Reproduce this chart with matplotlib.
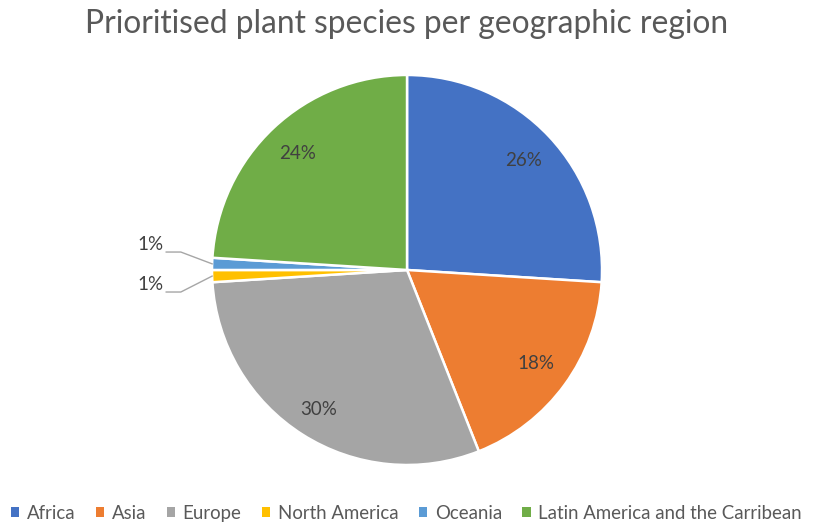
import numpy as np
import matplotlib.pyplot as plt
from matplotlib.patches import Patch

# regional share of prioritised plant species (%)
regions = ['Africa', 'Asia', 'Europe', 'North America', 'Oceania',
           'Latin America and the Carribean']
shares = [26, 18, 30, 1, 1, 24]
colors = ['#4472C4', '#ED7D31', '#A5A5A5', '#FFC000', '#5B9BD5', '#70AD47']

plt.rcParams['font.family'] = ['Lato', 'DejaVu Sans']

fig = plt.figure(figsize=(8.13, 5.25), dpi=100)
ax = fig.add_axes([0.2608, 0.1143, 0.4797, 0.7429])

wedges, _ = ax.pie(shares, colors=colors, startangle=90, counterclock=False,
                   radius=1, wedgeprops=dict(edgecolor='white', linewidth=1.8))
ax.set_xlim(-1, 1)
ax.set_ylim(-1, 1)
ax.set_aspect('equal')
ax.axis('off')

# percentage labels inside the larger slices, leader lines for the small ones
for w, v in zip(wedges, shares):
    mid = np.deg2rad((w.theta1 + w.theta2) / 2)
    if v >= 5:
        r = 0.85 if v >= 28 else 0.82
        ax.text(r * np.cos(mid), r * np.sin(mid), f'{v}%', ha='center',
                va='center', fontsize=13.5, color='#404040')
    else:
        ex, ey = np.cos(mid), np.sin(mid)
        ly, ty = (0.092, 0.133) if ey > 0 else (-0.113, -0.077)
        ax.plot([ex, -1.16, -1.235], [ey, ly, ly], color='#A6A6A6', lw=1,
                clip_on=False)
        ax.text(-1.25, ty, f'{v}%', ha='right', va='center',
                fontsize=13.5, color='#404040', clip_on=False)

fig.text(0.5, 0.955, 'Prioritised plant species per geographic region',
         ha='center', va='center', fontsize=22.9, color='#595959')

handles = [Patch(facecolor=c, edgecolor='none') for c in colors]
fig.legend(handles, regions, loc='center', bbox_to_anchor=(0.5, 0.022),
           ncol=6, frameon=False, fontsize=13.4, handlelength=0.45,
           handleheight=0.45, handletextpad=0.4, columnspacing=1.1,
           labelcolor='#595959')

fig.savefig('out.png', dpi=100)
